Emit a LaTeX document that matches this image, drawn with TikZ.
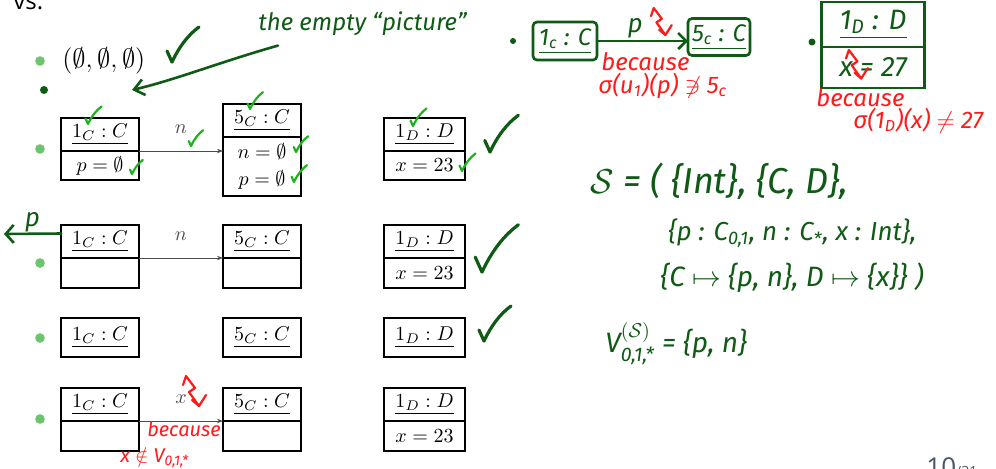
\documentclass[tikz,border=0pt]{standalone}
\usepackage{amsmath,amssymb}
\usepackage{graphicx}
\usepackage{fontspec}
\newfontfamily\handfont{Fira Sans}
\newfontfamily\slidefont{Open Sans}
\usetikzlibrary{arrows.meta,positioning,calc}

\definecolor{inkgreen}{HTML}{0F5A14}
\definecolor{tickgreen}{HTML}{1DB31D}
\definecolor{inkred}{HTML}{FF1A1A}
\definecolor{bulletgreen}{HTML}{6CC46C}
\definecolor{pagegray}{HTML}{4A5566}

\tikzset{
  objhead/.style={draw, line width=1pt, outer sep=0pt, inner sep=0pt, minimum width=39pt, minimum height=16.5pt},
  objbody/.style={draw, line width=1pt, outer sep=0pt, inner sep=0pt, minimum width=39pt, minimum height=14.5pt},
  link/.style={-{Stealth[length=3pt,width=2.2pt]}, line width=0.35pt, black!70},
  bulletdot/.style={circle, fill=bulletgreen, inner sep=0pt, minimum size=4.8pt},
  inkline/.style={draw=inkgreen, line width=1.3pt, line cap=round, line join=round},
  tickline/.style={draw=tickgreen, line width=1.1pt, line cap=round, line join=round},
  redline/.style={draw=inkred, line width=1.1pt, line cap=round, line join=round},
  handtext/.style={inner sep=0pt, font=\handfont\itshape\fontsize{#1}{#1}\selectfont},
  inkbox/.style={draw=inkgreen, line width=1.3pt, outer sep=0pt, inner sep=0pt, text=inkgreen},
  okmark/.pic={\draw[pic actions] (-5,-11) .. controls (-3,-6) .. (0,0) .. controls (7,-15) and (16,-27) .. (27,-35);},
  boltmark/.pic={\draw[pic actions] (0,9) -- (3,0) -- (12,12) -- (6,16) -- (16,30);
                 \draw[pic actions] (9,24) -- (16,30) -- (23,19);}
}

\begin{document}
\begin{tikzpicture}[x=0.5pt, y=-0.5pt]

\useasboundingbox[fill=white] (0,0) rectangle (996,468);

% === Slide frame ===
\node[anchor=base west, inner sep=0pt, font=\slidefont\fontsize{12}{12}\selectfont] (vs) at (13,9) {vs.};
\node[anchor=base west, inner sep=0pt, text=pagegray, font=\slidefont\fontsize{13}{13}\selectfont] (pnum) at (926,476) {10\fontsize{7}{7}\selectfont/31};

% bullets
\foreach \y [count=\i] in {61,149,263,338,419}
  \node[bulletdot] (bul\i) at (40,\y) {};

% === Item 1 ===
\node[anchor=west, inner sep=0pt, font=\large] (triple) at (62,61) {\scalebox{1.1}{$(\emptyset, \emptyset, \emptyset)$}};

% === Row 3: full object diagram ===
\node[objhead] (r3c1) at (100,134.5) {\underline{$1_C : C$}};
\node[objbody, below=0pt of r3c1] (r3c1b) {$p = \emptyset$};
\node[objhead] (r3c5) at (262,120) {\underline{$5_C : C$}};
\node[objbody, minimum height=29.5pt, align=center, below=0pt of r3c5] (r3c5b) {$n = \emptyset$\\[1.5pt]$p = \emptyset$};
\node[objhead, minimum width=40.5pt] (r3d1) at (424.5,134.5) {\underline{$1_D : D$}};
\node[objbody, minimum width=40.5pt, below=0pt of r3d1] (r3d1b) {$x = 23$};
\draw[link] (r3c1.south east) -- (r3c1.south east -| r3c5.west) node[midway, above=5pt] {$n$};

% === Row 4: empty attribute parts ===
\node[objhead] (r4c1) at (100,241.5) {\underline{$1_C : C$}};
\node[objbody, minimum height=15pt, below=0pt of r4c1] (r4c1b) {};
\node[objhead] (r4c5) at (262,241.5) {\underline{$5_C : C$}};
\node[objbody, minimum height=15pt, below=0pt of r4c5] (r4c5b) {};
\node[objhead, minimum width=40.5pt] (r4d1) at (424.5,241.5) {\underline{$1_D : D$}};
\node[objbody, minimum width=40.5pt, minimum height=15pt, below=0pt of r4d1] (r4d1b) {$x = 23$};
\draw[link] (r4c1.south east) -- (r4c1.south east -| r4c5.west) node[midway, above=5pt] {$n$};

% === Row 5: names only ===
\node[objhead, minimum height=19.5pt] (r5c1) at (100,337.5) {\underline{$1_C : C$}};
\node[objhead, minimum height=19.5pt] (r5c5) at (262,337.5) {\underline{$5_C : C$}};
\node[objhead, minimum width=40.5pt, minimum height=19.5pt] (r5d1) at (424.5,337.5) {\underline{$1_D : D$}};

% === Row 6: link x ===
\node[objhead] (r6c1) at (100,404.5) {\underline{$1_C : C$}};
\node[objbody, minimum height=15pt, below=0pt of r6c1] (r6c1b) {};
\node[objhead] (r6c5) at (262,404.5) {\underline{$5_C : C$}};
\node[objbody, minimum height=15pt, below=0pt of r6c5] (r6c5b) {};
\node[objhead, minimum width=40.5pt] (r6d1) at (424.5,404.5) {\underline{$1_D : D$}};
\node[objbody, minimum width=40.5pt, minimum height=15pt, below=0pt of r6d1] (r6d1b) {$x = 23$};
\draw[link] (r6c1.south east) -- (r6c1.south east -| r6c5.west) node[midway, above=5pt] {$x$};

% === Handwritten: dark green ===
\node[handtext=12, text=inkgreen, anchor=base west] (emptynote) at (258,30) {the empty “picture”};
\node[circle, fill=inkgreen, inner sep=0pt, minimum size=4pt] (emptydot) at (44,90) {};
\coordinate (emptyend) at (132,90);
\draw[inkline, -{Straight Barb[length=5pt,width=8pt]}] ($(emptynote.south west)+(20,10)$)
  .. controls (220,62) and (175,80) .. (emptyend);

\pic[inkline, line width=1.6pt] at (172,62) {okmark};
\pic[inkline, line width=1.6pt, scale=1.05] at (490,152) {okmark};
\pic[inkline, line width=1.6pt, scale=1.35] at (482,272) {okmark};
\pic[inkline, line width=1.6pt] at (484,341) {okmark};

% p out of 1_C in row 4
\coordinate (pleft) at (4,234);
\draw[inkline, -{Straight Barb[length=4pt,width=9pt]}] ($(r4c1.west)+(0,-8)$) -- (pleft)
  node[pos=0.5, above=0pt, handtext=13, text=inkgreen] {p};

% bright green ticks in row 3
\pic[tickline, scale=0.5] at (88,124) {okmark};
\pic[tickline, scale=0.45] at (191,146) {okmark};
\pic[tickline, scale=0.4] at (132,174) {okmark};
\pic[tickline, scale=0.48] at (250,109) {okmark};
\pic[tickline, scale=0.45] at (296,152) {okmark};
\pic[tickline, scale=0.48] at (294,182) {okmark};
\pic[tickline, scale=0.5] at (413,126) {okmark};
\pic[tickline, scale=0.5] at (462,171) {okmark};

% top right: two sketched diagrams
\node[circle, fill=inkgreen, inner sep=0pt, minimum size=3pt] (tdot1) at (513,41) {};
\node[inkbox, rounded corners=2pt, minimum width=32pt, minimum height=19pt, handtext=12] (hc1) at (565,41) {\underline{1\textsubscript{c} : C}};
\node[inkbox, rounded corners=2pt, minimum width=31pt, minimum height=18.5pt, handtext=12] (hc5) at (719,37) {\underline{5\textsubscript{c} : C}};
\draw[inkline, -{Straight Barb[length=4pt,width=8pt]}] (hc1.east) -- (hc1.east -| hc5.west)
  node[pos=0.42, above=1pt, handtext=13, text=inkgreen] {p};
\pic[redline, scale=0.9] at (651,8) {boltmark};
\node[handtext=12, text=inkred, anchor=base west] (why1) at (601,70) {because};
\node[handtext=12, text=inkred, anchor=base west] (why1b) at (598,93) {σ(u\textsubscript{1})(p) $\not\ni$ 5\textsubscript{c}};

\node[circle, fill=inkgreen, inner sep=0pt, minimum size=3.5pt] (tdot2) at (812,42) {};
\node[inkbox, minimum width=51.5pt, minimum height=22.5pt, handtext=14] (hd1) at (873,24.5) {\underline{1\textsubscript{D} : D}};
\node[inkbox, minimum width=51.5pt, minimum height=20.5pt, handtext=14, below=0pt of hd1] (hd1b) {x = 27};
\pic[redline, scale=0.95] at (846,50) {boltmark};
\node[handtext=12, text=inkred, anchor=base west] (why2) at (816,106) {because};
\node[handtext=12, text=inkred, anchor=base west] (why2b) at (853,128) {σ(1\textsubscript{D})(x) $\neq$ 27};

% signature
\node[handtext=18, text=inkgreen, anchor=base west] (sig1) at (590,193) {$\mathcal{S}$ = ( \{Int\}, \{C, D\},};
\node[handtext=13, text=inkgreen, anchor=base west] (sig2) at (668,240) {\{p : C\textsubscript{0,1}, n : C\textsubscript{*}, x : Int\},};
\node[handtext=14, text=inkgreen, anchor=base west] (sig3) at (660,286) {\{C $\mapsto$ \{p, n\}, D $\mapsto$ \{x\}\} )};
\node[handtext=14, text=inkgreen, anchor=base west] (vset) at (605,352) {V$^{(\mathcal{S})}_{\text{0,1,*}}$ = \{p, n\}};

% red remarks row 6
\pic[redline, scale=1] at (183,376) {boltmark};
\node[handtext=10, text=inkred, anchor=base west] (why3) at (147,436) {because};
\node[handtext=10, text=inkred, anchor=base west] (why3b) at (120,462) {x $\notin$ V\textsubscript{0,1,*}};

\end{tikzpicture}
\end{document}
